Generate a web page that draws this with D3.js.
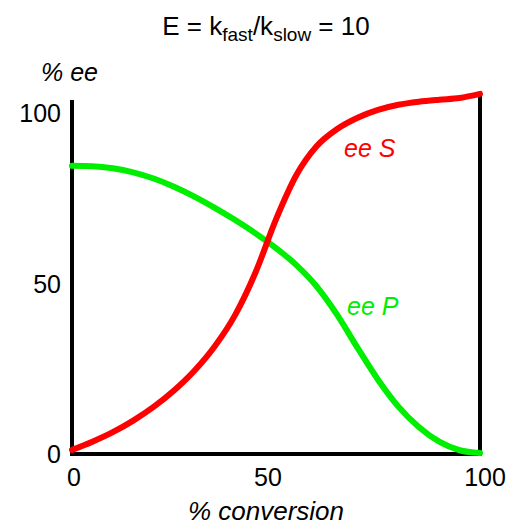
<!DOCTYPE html>
<html><head><meta charset="utf-8">
<script src="https://cdn.jsdelivr.net/npm/d3@7"></script>
<style>body{margin:0;background:#fff}svg{display:block}text{font-family:"Liberation Sans",Arial,sans-serif}</style>
</head><body><svg id="c" width="514" height="525"></svg>
<script>
const conversion = [0, 5, 10, 15, 20, 25, 30, 35, 40, 45, 50, 55, 60, 65, 70, 75, 80, 85, 90, 95, 100];
const eeS = [1.2, 3.6, 6.4, 9.8, 13.8, 18.6, 24.4, 31.6, 40.8, 53.3, 68.8, 81.8, 90.3, 95.3, 98.6, 100.9, 102.4, 103.3, 103.9, 104.4, 105.6];
const eeP = [84.5, 84.4, 83.8, 82.6, 80.8, 78.4, 75.5, 72.2, 68.6, 64.7, 60.4, 55.4, 49.1, 40.8, 31.1, 21.8, 13.9, 7.9, 3.6, 1.1, 0.3];
const xTicks = [0, 50, 100];
const yTicks = [0, 50, 100];

const svg = d3.select("#c");
const x = d3.scaleLinear().domain([0, 100]).range([72, 480]);
const y = d3.scaleLinear().domain([0, 100]).range([454, 113]);

// title
const t = svg.append("text").attr("x", 266).attr("y", 35).attr("text-anchor", "middle").attr("font-size", 26).attr("fill", "#000");
t.append("tspan").text("E = k");
t.append("tspan").attr("font-size", 19).attr("dy", 6).text("fast");
t.append("tspan").attr("dy", -6).text("/k");
t.append("tspan").attr("font-size", 19).attr("dy", 6).text("slow");
t.append("tspan").attr("dy", -6).text(" = 10");

// axis labels
svg.append("text").attr("x", 41).attr("y", 81).attr("font-size", 25).attr("font-style", "italic").text("% ee");
svg.append("text").attr("x", 266).attr("y", 520).attr("text-anchor", "middle").attr("font-size", 26).attr("font-style", "italic").text("% conversion");

// frame lines
const frame = svg.append("g").attr("stroke", "#000").attr("stroke-width", 4).attr("fill", "none");
frame.append("line").attr("x1", x(0)).attr("x2", x(0)).attr("y1", 100).attr("y2", y(0) + 2);
frame.append("line").attr("x1", x(100)).attr("x2", x(100)).attr("y1", 96).attr("y2", y(0) + 2);
frame.append("line").attr("x1", x(0) - 2).attr("x2", x(100) + 2).attr("y1", y(0)).attr("y2", y(0));

// tick labels
svg.append("g").selectAll("text").data(yTicks).join("text")
  .attr("x", 61).attr("y", d => y(d)).attr("dy", "0.36em")
  .attr("text-anchor", "end").attr("font-size", 25).text(d => d);
svg.append("g").selectAll("text").data(xTicks).join("text")
  .attr("x", d => x(d) + (d === 100 ? 5 : d === 50 ? -8 : 2)).attr("y", 486)
  .attr("text-anchor", "middle").attr("font-size", 25).text(d => d);

// curves
const line = d3.line().x(d => x(d[0])).y(d => y(d[1])).curve(d3.curveMonotoneX);
svg.append("path").datum(conversion.map((c, i) => [c, eeP[i]]))
  .attr("d", line).attr("fill", "none").attr("stroke", "#00ee00").attr("stroke-width", 6).attr("stroke-linecap", "round");
svg.append("path").datum(conversion.map((c, i) => [c, eeS[i]]))
  .attr("d", line).attr("fill", "none").attr("stroke", "#ff0000").attr("stroke-width", 6).attr("stroke-linecap", "round");

// series labels
svg.append("text").attr("x", 344).attr("y", 157).attr("font-size", 25).attr("font-style", "italic").attr("fill", "#ff0000").text("ee S");
svg.append("text").attr("x", 347).attr("y", 315).attr("font-size", 25).attr("font-style", "italic").attr("fill", "#00ee00").text("ee P");
</script></body></html>
